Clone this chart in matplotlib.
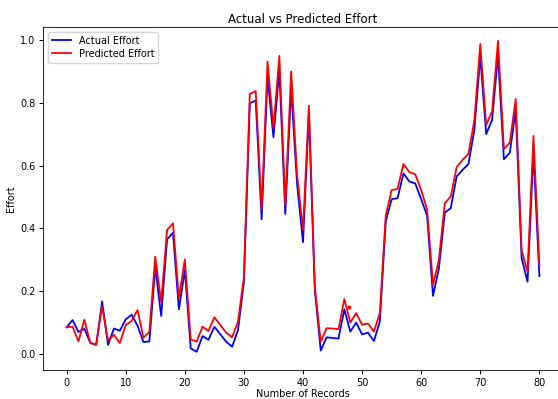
import matplotlib
matplotlib.use("Agg")
import matplotlib.pyplot as plt

actual = [0.085, 0.108, 0.070, 0.080, 0.036, 0.029, 0.167, 0.029, 0.081, 0.074,
          0.110, 0.125, 0.090, 0.038, 0.040, 0.277, 0.121, 0.365, 0.386, 0.142,
          0.268, 0.018, 0.007, 0.057, 0.045, 0.087, 0.063, 0.039, 0.023, 0.076,
          0.230, 0.798, 0.807, 0.429, 0.883, 0.690, 0.904, 0.446, 0.846, 0.540,
          0.356, 0.767, 0.204, 0.011, 0.053, 0.051, 0.049, 0.142, 0.071, 0.100,
          0.062, 0.068, 0.041, 0.103, 0.421, 0.493, 0.496, 0.575, 0.549, 0.543,
          0.493, 0.440, 0.185, 0.273, 0.450, 0.464, 0.565, 0.586, 0.605, 0.713,
          0.947, 0.700, 0.745, 0.952, 0.620, 0.641, 0.777, 0.305, 0.230, 0.644,
          0.248]
predicted = [0.085, 0.087, 0.040, 0.109, 0.035, 0.029, 0.153, 0.043, 0.061, 0.035,
             0.092, 0.105, 0.140, 0.052, 0.070, 0.310, 0.165, 0.395, 0.416, 0.177,
             0.301, 0.047, 0.039, 0.087, 0.073, 0.117, 0.092, 0.068, 0.053, 0.103,
             0.245, 0.828, 0.837, 0.459, 0.931, 0.719, 0.949, 0.474, 0.899, 0.570,
             0.395, 0.790, 0.214, 0.039, 0.082, 0.081, 0.079, 0.175, 0.100, 0.130,
             0.093, 0.097, 0.071, 0.130, 0.440, 0.522, 0.525, 0.605, 0.579, 0.572,
             0.522, 0.460, 0.220, 0.300, 0.480, 0.501, 0.594, 0.618, 0.637, 0.745,
             0.987, 0.729, 0.772, 0.997, 0.652, 0.673, 0.812, 0.329, 0.262, 0.694,
             0.283]
stray_x = [47.8]
stray_y = [0.151]

records = list(range(len(actual)))

plt.rcParams['font.family'] = ['DejaVu Sans']
fig = plt.figure(figsize=(5.58, 3.99), dpi=100)
ax = fig.add_axes([43/558, 29/399, (563-43)/558, (370-27)/399])
ax.plot(records, actual, color='blue', lw=1.3, label='Actual Effort')
ax.plot(records, predicted, color='red', lw=1.3, label='Predicted Effort')
ax.plot(stray_x, stray_y, 'o', color='red', ms=1.8)
ax.set_xlim(-4, 84)
ax.set_ylim(-0.051, 1.041)
ax.set_xticks([0, 10, 20, 30, 40, 50, 60, 70, 80])
ax.set_yticks([0.0, 0.2, 0.4, 0.6, 0.8, 1.0])
ax.tick_params(labelsize=7, length=3, width=0.7, pad=2.5)
for s in ax.spines.values():
    s.set_linewidth(0.8)
    s.set_color('#333333')
ax.set_title('Actual vs Predicted Effort', fontsize=8.5, pad=3)
ax.set_xlabel('Number of Records', fontsize=7, labelpad=1)
ax.set_ylabel('Effort', fontsize=7, labelpad=3)
ax.legend(loc='upper left', fontsize=7, handlelength=2.0, borderpad=0.4,
          labelspacing=0.3, framealpha=0.8)
fig.savefig('out.png', dpi=100)
